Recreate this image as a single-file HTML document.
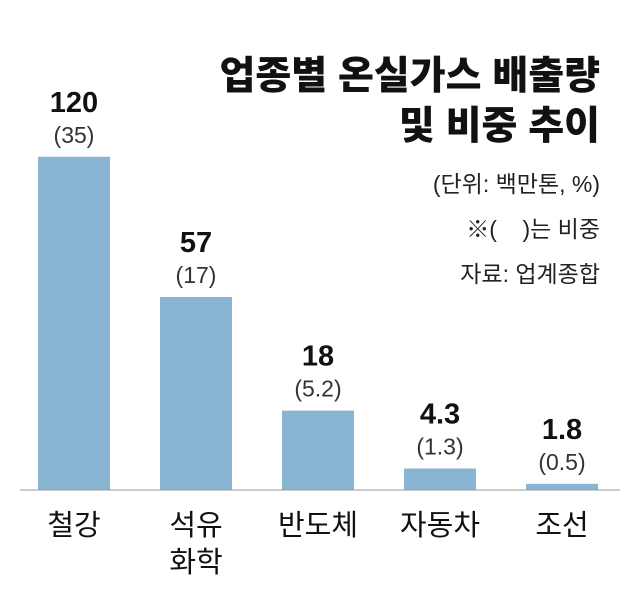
<!DOCTYPE html>
<html><head><meta charset="utf-8"><style>
body{margin:0;background:#fff;}
svg text{font-family:"Liberation Sans","Noto Sans CJK KR",sans-serif;}
</style></head><body>
<svg width="640" height="606" viewBox="0 0 640 606">
<rect width="640" height="606" fill="#fff"/>
<g>
<text x="600" y="89" text-anchor="end" font-size="39" font-weight="900" fill="#111">업종별 온실가스 배출량</text>
<text x="600" y="139" text-anchor="end" font-size="39" font-weight="900" fill="#111">및 비중 추이</text>
</g>
<g font-size="23" fill="#222" text-anchor="end">
<text x="600" y="192">(단위: 백만톤, %)</text>
<text x="600" y="237">※(&#160;&#160;&#160;&#160;)는 비중</text>
<text x="600" y="282">자료: 업계종합</text>
</g>
<g id="bars"></g>
<line x1="20" y1="490" x2="620" y2="490" stroke="#999" stroke-width="1"/>
</svg>
<script>
const categories=[["철강"],["석유","화학"],["반도체"],["자동차"],["조선"]];
const values=[120,57,18,4.3,1.8];
const valueLabels=["120","57","18","4.3","1.8"];
const shares=["(35)","(17)","(5.2)","(1.3)","(0.5)"];
const NS="http://www.w3.org/2000/svg";
const g=document.getElementById("bars");
const base=490,x0=38,step=122,bw=72;
function yScale(v){return base-12.1*(Math.pow(v,0.7)-1);}
function mk(tag,attrs,txt){const e=document.createElementNS(NS,tag);for(const k in attrs)e.setAttribute(k,attrs[k]);if(txt!==undefined)e.textContent=txt;g.appendChild(e);return e;}
values.forEach((v,i)=>{
 const x=x0+i*step,top=yScale(v),cx=x+bw/2;
 const r=mk("rect",{x:x,y:top,width:bw,height:base-top,fill:"#89b5d3"});
 
 
 const t=mk("text",{x:cx,y:top-45,"text-anchor":"middle","font-size":"29","font-weight":"bold",fill:"#111"},valueLabels[i]);
 
 
 const s=mk("text",{x:cx,y:top-14,"text-anchor":"middle","font-size":"23",fill:"#333"},shares[i]);
 
 
 categories[i].forEach((c,j)=>{
  const l=mk("text",{x:cx,y:535+j*37,"text-anchor":"middle","font-size":"29",fill:"#111"},c);
  
  
 });
});
</script>
</body></html>
